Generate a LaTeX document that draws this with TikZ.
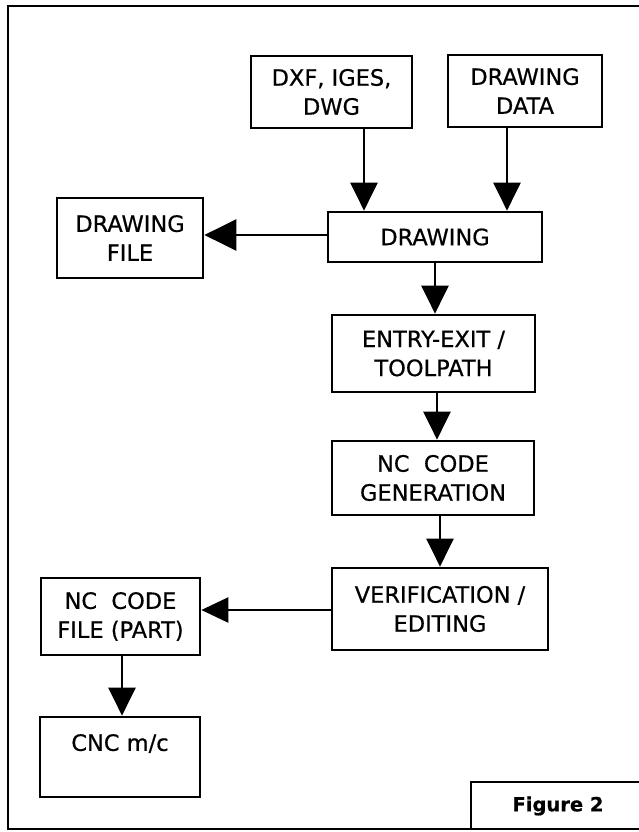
\documentclass[tikz,border=0pt]{standalone}
\usepackage{fontspec}
\setmainfont{DejaVu Sans}[FakeBold=0.6]
\usetikzlibrary{arrows.meta}
\tikzset{
  box/.style={draw, line width=2.7pt, inner sep=0pt, align=center,
    font=\fontsize{22.5}{29}\selectfont},
  arr/.style={line width=2.4pt, -{Triangle[width=27pt,length=28pt]}}
}
\begin{document}
\begin{tikzpicture}[x=1pt,y=-1pt]
\useasboundingbox (0,0) rectangle (638,832);
% outer frame
\draw[line width=2.8pt] (8,6) rectangle (642,829);
% boxes
\node[box, minimum width=161pt, minimum height=72pt] (dxf) at (331.5,92) {DXF, IGES,\\DWG};
\node[box, minimum width=154pt, minimum height=72pt] (data) at (525,91) {DRAWING\\DATA};
\node[box, minimum width=146pt, minimum height=80pt] (dfile) at (130,238) {DRAWING\\FILE};
\node[box, minimum width=214pt, minimum height=50pt] (drawing) at (435,237) {DRAWING};
\node[box, minimum width=203pt, minimum height=77pt] (entry) at (433.5,353.5) {ENTRY-EXIT /\\TOOLPATH};
\node[box, minimum width=202pt, minimum height=74pt] (ncgen) at (433,478) {NC~~CODE\\GENERATION};
\node[box, minimum width=216pt, minimum height=82pt] (verif) at (440,609) {VERIFICATION /\\EDITING};
\node[box, minimum width=159pt, minimum height=77pt] (ncfile) at (120.5,616.5) {NC~~CODE\\FILE (PART)};
\node[box, minimum width=160pt, minimum height=80pt] (cnc) at (120,757) {CNC m/c\\\mbox{}};
% figure label
\draw[line width=2.7pt] (471,829) -- (471,782) -- (642,782);
\node[font=\fontsize{19.5}{23}\selectfont\bfseries] (fig) at (558,806) {Figure 2};
% connectors
\draw[arr] ([xshift=32.5pt]dxf.south) -- ([xshift=32.5pt]dxf.south |- drawing.north);
\draw[arr] ([xshift=-18pt]data.south) -- ([xshift=-18pt]data.south |- drawing.north);
\draw[line width=2.4pt, -{Triangle[width=31pt,length=32pt]}] ([yshift=2pt]drawing.west) -- ([yshift=2pt]drawing.west -| dfile.east);
\draw[arr] (drawing.south) -- (drawing.south |- entry.north);
\draw[arr] ([xshift=3.5pt]entry.south) -- ([xshift=3.5pt]entry.south |- ncgen.north);
\draw[arr] ([xshift=7pt]ncgen.south) -- ([xshift=7pt]ncgen.south |- verif.north);
\draw[line width=2.4pt, -{Triangle[width=25pt,length=27pt]}] ([yshift=-1pt]verif.west) -- ([yshift=-1pt]verif.west -| ncfile.east);
\draw[arr] ([xshift=1.5pt]ncfile.south) -- ([xshift=1.5pt]ncfile.south |- cnc.north);
\end{tikzpicture}
\end{document}
